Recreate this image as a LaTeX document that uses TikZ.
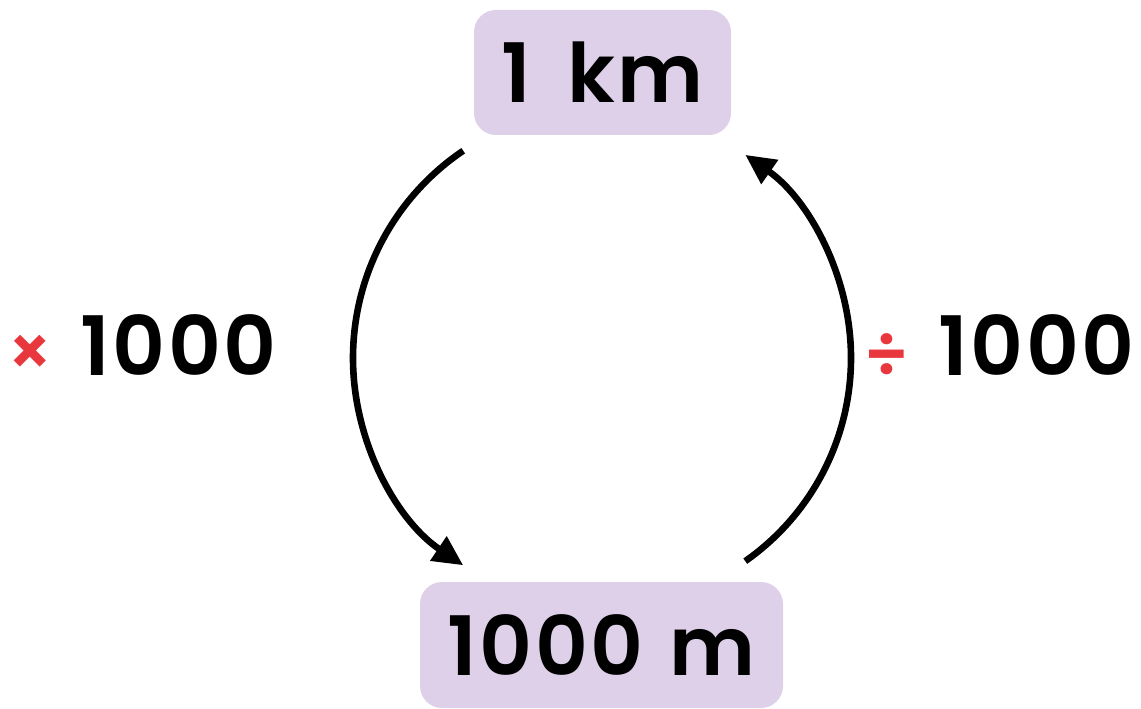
\documentclass[tikz,border=0pt]{standalone}
\usepackage{fontspec}
\setmainfont{Poppins}[BoldFont={* SemiBold},BoldFeatures={LetterSpace=3}]
\usetikzlibrary{arrows.meta,calc}
\definecolor{boxfill}{HTML}{DDD0E8}
\definecolor{opred}{HTML}{E8373D}
\begin{document}
\begin{tikzpicture}[x=0.5pt,y=0.5pt,
  unitbox/.style={fill=boxfill,rounded corners=11pt,inner sep=0pt,
    font=\fontsize{41}{46}\selectfont\bfseries},
  numlabel/.style={inner sep=0pt,font=\fontsize{41}{46}\selectfont\bfseries},
  oplabel/.style={inner sep=0pt,text=opred,font=\fontsize{34}{40}\selectfont\bfseries},
  conv/.style={line width=3.3pt,-{Triangle[length=15pt,width=14pt]}}]
\useasboundingbox (0,0) rectangle (1141,708);
\node[unitbox,minimum width=128.5pt,minimum height=62.5pt] (km) at (602.5,635.5) {1\hspace{0.45em}km};
\node[unitbox,minimum width=181.5pt,minimum height=63pt] (m) at (601.5,63) {1000\hspace{0.32em}m};
\node[oplabel] (times) at (30,353) {×};
\node[numlabel] (lnum) at (178.5,363) {1000};
\node[oplabel] (div) at (887,352) {÷};
\node[numlabel] (rnum) at (1036.5,363) {1000};
\coordinate (a1) at ($(603,350)+(124:250)$);
\coordinate (b2) at ($(603,350)+(-55:248)$);
\draw[conv] (a1) arc[start angle=124,end angle=236,radius=250];
\draw[conv] (b2) arc[start angle=-55,end angle=55,radius=248];
\end{tikzpicture}
\end{document}
